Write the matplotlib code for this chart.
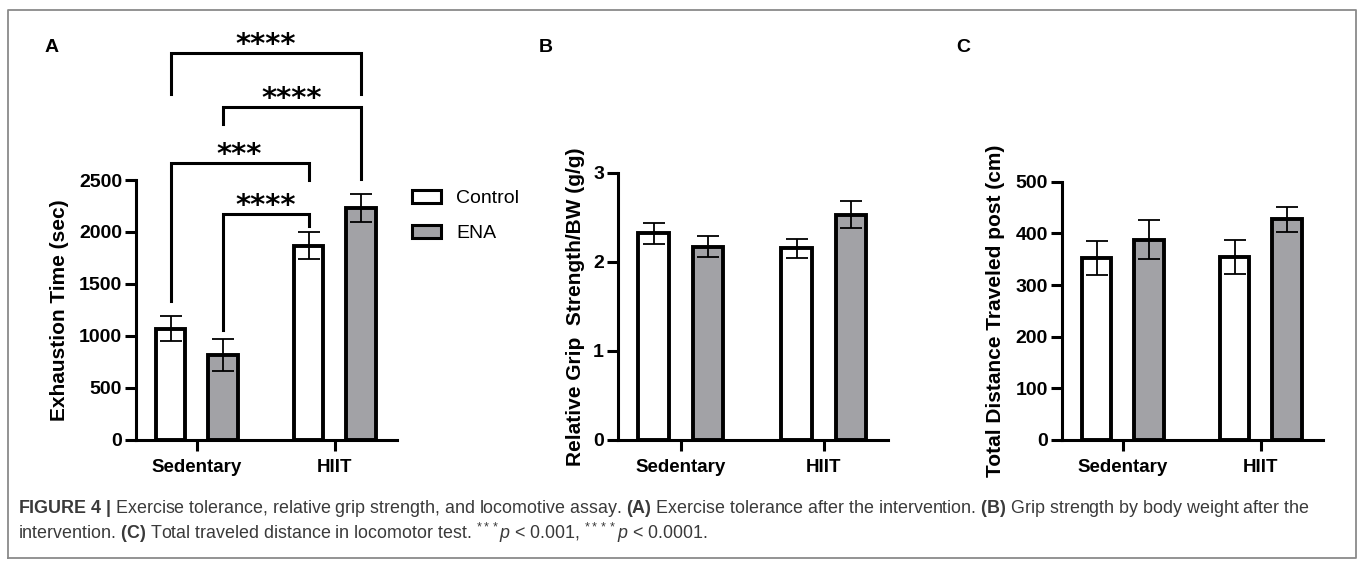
import matplotlib
matplotlib.use("Agg")
import matplotlib.pyplot as plt
from matplotlib.patches import Patch
from matplotlib.lines import Line2D
import numpy as np

plt.rcParams['font.family'] = ['Liberation Sans', 'DejaVu Sans']
plt.rcParams['mathtext.fontset'] = 'custom'
plt.rcParams['mathtext.rm'] = 'Liberation Sans'
plt.rcParams['mathtext.it'] = 'Liberation Sans:italic'
plt.rcParams['mathtext.bf'] = 'Liberation Sans:bold'

# ---------------- data ----------------
groups = ["Sedentary", "HIIT"]
series = ["Control", "ENA"]

exhaustion_control = [1070, 1870]
exhaustion_control_err = [120, 127]
exhaustion_ena = [820, 2230]
exhaustion_ena_err = [155, 133]

grip_control = [2.32, 2.15]
grip_control_err = [0.115, 0.105]
grip_ena = [2.17, 2.53]
grip_ena_err = [0.12, 0.155]

distance_control = [353, 355]
distance_control_err = [33, 33]
distance_ena = [388, 427]
distance_ena_err = [37, 24]

ticks_a = [0, 500, 1000, 1500, 2000, 2500]
ticks_b = [0, 1, 2, 3]
ticks_c = [0, 100, 200, 300, 400, 500]

# significance brackets for panel A: (group, series) -> (group, series), top, left end, right end, label
brackets_a = [
    ((0, 0), (1, 1), 3720, 3330, 3330, "****"),
    ((0, 1), (1, 1), 3200, 3040, 2510, "****"),
    ((0, 0), (1, 0), 2660, 1340, 2500, "***"),
    ((0, 1), (1, 0), 2170, 1060, 2060, "****"),
]

ylabels = ["Exhaustion Time (sec)", "Relative Grip  Strength/BW (g/g)",
           "Total Distance Traveled post (cm)"]
panel_letters = ["A", "B", "C"]

caption1 = (r"$\mathbf{FIGURE\ 4\ |}$ Exercise tolerance, relative grip strength, and locomotive assay. "
            r"$\mathbf{(A)}$ Exercise tolerance after the intervention. "
            r"$\mathbf{(B)}$ Grip strength by body weight after the")
caption2 = (r"intervention. $\mathbf{(C)}$ Total traveled distance in locomotor test. "
            r"$^{***}\mathit{p}$ < 0.001, $^{****}\mathit{p}$ < 0.0001.")

# ---------------- figure ----------------
W, H = 1357, 565
fig = plt.figure(figsize=(W / 100, H / 100), dpi=100)

def fx(px):
    return px / W

def fy(py):
    return 1 - py / H

GRAY = "#a2a2a6"
offsets = [-0.19, 0.19]
bar_w = 0.215

axes_px = [  # left, right, top pixel (bottom at 440)
    (136, 397, 180),
    (618, 888, 172.7),
    (1062, 1323, 181.7),
]
panels = [
    (exhaustion_control, exhaustion_control_err, exhaustion_ena, exhaustion_ena_err, ticks_a),
    (grip_control, grip_control_err, grip_ena, grip_ena_err, ticks_b),
    (distance_control, distance_control_err, distance_ena, distance_ena_err, ticks_c),
]
label_x = [-0.255, -0.122, -0.218]
letter_px = [52, 546, 963]

axes = []
for i, ((l, r, t), (cm, ce, em, ee, yt)) in enumerate(zip(axes_px, panels)):
    ax = fig.add_axes([fx(l), fy(440), (r - l) / W, (440 - t) / H])
    x = np.arange(len(groups))
    ax.bar(x + offsets[0], cm, bar_w, color="white", edgecolor="black", linewidth=2.8,
           zorder=2, label=series[0])
    ax.bar(x + offsets[1], em, bar_w, color=GRAY, edgecolor="black", linewidth=2.8,
           zorder=2, label=series[1])
    ax.errorbar(x + offsets[0], cm, yerr=ce, fmt="none", ecolor="black", elinewidth=1.3,
                capsize=8, capthick=1.3, zorder=3)
    ax.errorbar(x + offsets[1], em, yerr=ee, fmt="none", ecolor="black", elinewidth=1.3,
                capsize=8, capthick=1.3, zorder=3)
    ax.set_xlim(-0.44, 1.45)
    ax.set_ylim(yt[0], yt[-1])
    ax.set_yticks(yt)
    ax.set_xticks(x)
    ax.set_xticklabels(groups, fontweight="bold", fontsize=13.5)
    for lab in ax.get_yticklabels():
        lab.set_fontweight("bold")
        lab.set_fontsize(14)
    for s in ["top", "right"]:
        ax.spines[s].set_visible(False)
    for s in ["left", "bottom"]:
        ax.spines[s].set_linewidth(2.2)
    ax.tick_params(axis="y", length=8, width=2.2, pad=2)
    ax.tick_params(axis="x", length=8, width=2.2, pad=6)
    ax.set_ylabel(ylabels[i], fontweight="bold", fontsize=15)
    ax.yaxis.set_label_coords(label_x[i], 0.5)
    fig.text(fx(letter_px[i]), fy(48), panel_letters[i], fontweight="bold", fontsize=14,
             ha="center", va="center")
    axes.append(ax)

# brackets on panel A
axA = axes[0]
for (g1, s1), (g2, s2), top, lend, rend, lab in brackets_a:
    x1 = g1 + offsets[s1]
    x2 = g2 + offsets[s2]
    axA.plot([x1, x1, x2, x2], [lend, top, top, rend], color="black", lw=2.2,
             clip_on=False, solid_joinstyle="miter", zorder=4)
    axA.annotate(lab, xy=((x1 + x2) / 2, top), xytext=(0, 0), textcoords="offset points",
                 ha="center", va="baseline", fontsize=21, fontweight="bold",
                 family="DejaVu Sans", annotation_clip=False)

# legend
handles = [Patch(facecolor="white", edgecolor="black", linewidth=2.2, label=series[0]),
           Patch(facecolor=GRAY, edgecolor="black", linewidth=2.2, label=series[1])]
fig.legend(handles=handles, loc="upper left", bbox_to_anchor=(fx(412), fy(190)),
           frameon=False, fontsize=14, handlelength=1.5, handleheight=0.62,
           handletextpad=0.78, labelspacing=0.92, borderpad=0, borderaxespad=0)

# caption
fig.text(fx(18), fy(513), caption1, fontsize=12.9, color="#3a3a3a", va="baseline")
fig.text(fx(18), fy(539), caption2, fontsize=12.9, color="#3a3a3a", va="baseline")

# border
fig.add_artist(Line2D([fx(8), fx(8), fx(1356), fx(1356), fx(8)],
                      [fy(558), fy(9.5), fy(9.5), fy(558), fy(558)],
                      transform=fig.transFigure, color="#8a8a8a", linewidth=1.3))

fig.savefig("out.png", dpi=100)
